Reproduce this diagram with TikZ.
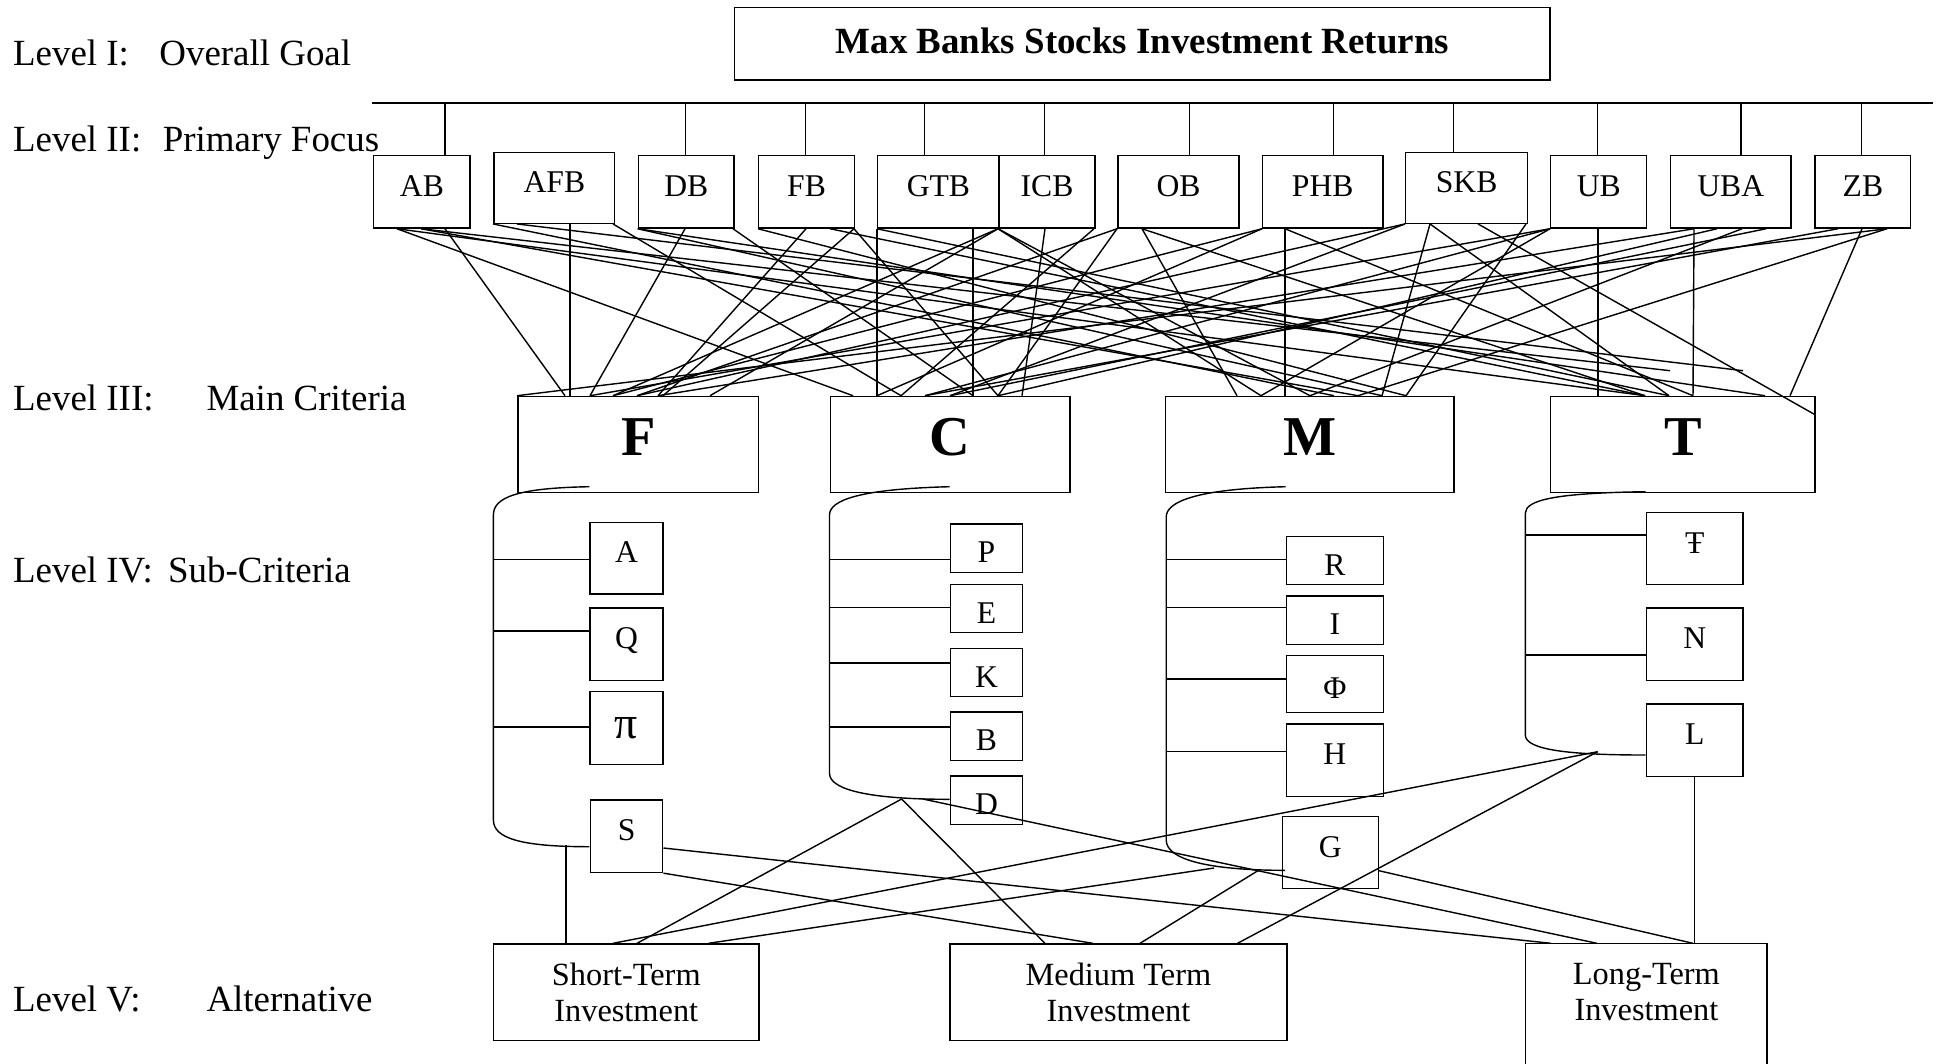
\documentclass[tikz,border=0pt]{standalone}
\usepackage{fontspec}
\setmainfont{Liberation Serif}
\begin{document}
\begin{tikzpicture}[x=0.01cm, y=-0.01cm, line width=0.4pt,
    every node/.style={inner sep=0pt},
    lvl/.style={anchor=base west, font=\fontsize{10.5}{12}\selectfont},
    goal/.style={draw, anchor=north west, text height=7pt, text depth=1.4pt,
        font=\fontsize{10.5}{12}\selectfont\bfseries},
    bank/.style={draw, anchor=north west, minimum height=0.723cm, text height=6pt, text depth=3.4pt,
        font=\fontsize{9}{10}\selectfont},
    crit/.style={draw, anchor=north west, minimum height=0.96cm, text height=10.8pt, text depth=4.4pt,
        font=\fontsize{16}{18}\selectfont\bfseries},
    tallsub/.style={draw, anchor=north west, text height=6pt, text depth=3.4pt,
        font=\fontsize{9}{10}\selectfont},
    shortsub/.style={draw, anchor=north west, text height=8.2pt, text depth=0pt,
        font=\fontsize{9}{10}\selectfont},
    alt/.style={draw, anchor=north west, minimum height=0.967cm, align=center,
        font=\fontsize{9.2}{10.3}\selectfont}]
    \useasboundingbox (0,0) rectangle (1943,1063);

    % Level names on the left
    \node[lvl] (lvlI) at (12.4,65.6) {\makebox[1.462cm][l]{Level I:}Overall Goal};
    \node[lvl] (lvlII) at (12.4,151.1) {\makebox[1.496cm][l]{Level II:}Primary Focus};
    \node[lvl] (lvlIII) at (12.4,410.1) {\makebox[1.933cm][l]{Level III:}Main Criteria};
    \node[lvl] (lvlIV) at (12.4,582.3) {\makebox[1.55cm][l]{Level IV:}Sub-Criteria};
    \node[lvl] (lvlV) at (12.4,1011.1) {\makebox[1.933cm][l]{Level V:}Alternative};

    % Level I: goal
    \node[goal, minimum width=8.15cm, minimum height=0.723cm] (goal) at (734,7)
        {Max Banks Stocks Investment Returns};

    % bar under the goal
    \coordinate (bar) at (372,103);
    \coordinate (barEnd) at (1933,103);
    \draw[line width=0.7pt] (bar) -- (barEnd);

    % Level II: banks
    \foreach \n/\x/\w in {AB/373/0.963, DB/637.7/0.956, FB/757.7/0.963, GTB/877/1.213,
        ICB/998.3/0.96, OB/1117.3/1.21, PHB/1261.7/1.206, UB/1550/0.96,
        UBA/1670/1.2, ZB/1814.3/0.957}
        \node[bank, minimum width=\w cm] (\n) at (\x,155) {\n};
    \node[bank, minimum width=1.207cm, minimum height=0.705cm] (AFB) at (493.3,152) {AFB};
    \node[bank, minimum width=1.217cm, minimum height=0.705cm] (SKB) at (1405,152) {SKB};

    % drops from the bar
    \foreach \n/\x in {AB/445, DB/685.3, FB/805.5, GTB/924.5, ICB/1044.6, OB/1189.6,
        PHB/1333.4, SKB/1453.6, UB/1597.3, UBA/1741.1, ZB/1861.3}
        \draw (bar -| \x,0) -- (\n.north -| \x,0);

    % Level III: main criteria
    \node[crit, minimum width=2.404cm] (critF) at (517.3,395.7) {F};
    \node[crit, minimum width=2.39cm] (critC) at (830,395.7) {C};
    \node[crit, minimum width=2.883cm] (critM) at (1165,395.7) {M};
    \node[crit, minimum width=2.64cm] (critT) at (1550,395.7) {T};

    % bank -> criterion lines
    \foreach \b/\x/\c/\y in {AB/445/critF/565, AB/397/critC/853, AB/421/critM/1358, AB/397/critT/1645,
        AFB/570/critF/570, AFB/613/critC/901, AFB/493/critM/1334,
        DB/685/critF/590, DB/733/critC/973, DB/637.7/critM/1382, DB/637.7/critT/1765,
        FB/806/critF/658, FB/854/critF/663, FB/854/critC/998, FB/758/critM/1406, FB/830/critT/1645,
        GTB/877/critC/877, GTB/973/critC/973, GTB/998/critF/710, GTB/998/critM/1310, GTB/877/critT/1669,
        ICB/1045/critC/1022, ICB/1094/critC/901, ICB/998/critF/613, ICB/998/critM/1261,
        OB/1117/critF/637, OB/1117/critC/998, OB/1142/critM/1237, OB/1142/critT/1645,
        PHB/1285/critM/1285, PHB/1262/critC/877, PHB/1262/critF/613, PHB/1285/critT/1693,
        SKB/1430/critM/1382, SKB/1526/critM/1406, SKB/1405/critC/950, SKB/1405/critF/637, SKB/1430/critT/1669,
        UB/1598/critT/1598, UB/1550/critM/1261, UB/1550/critC/925, UB/1550/critF/590,
        UBA/1694/critT/1693, UBA/1694/critF/658, UBA/1717/critC/998, UBA/1742/critM/1310, UBA/1766/critC/950,
        ZB/1862/critT/1790, ZB/1887/critF/517, ZB/1838/critC/925, ZB/1887/critM/1358}
        \draw (\b.south -| \x,0) -- (\c.north -| \y,0);
    % lines that stop short of T or hit its side
    \draw (AB.south -| 421,0) -- ([yshift=0.25cm]critT.north -| 1670,0);
    \draw (AFB.south -| 517,0) -- ([yshift=0.25cm]critT.north -| 1743,0);
    \draw (SKB.south -| 1478,0) -- (critT.east |- 0,415);

    % Level IV: sub-criteria
    \node[tallsub, minimum width=0.727cm, minimum height=0.716cm] (subA) at (589.4,521.7) {A};
    \node[tallsub, minimum width=0.727cm, minimum height=0.727cm] (subQ) at (589.4,607.3) {Q};
    \node[draw, anchor=north west, minimum width=0.727cm, minimum height=0.73cm] (subPi) at (589.4,691)
        {\fontsize{13}{13}\selectfont π};
    \node[tallsub, minimum width=0.72cm, minimum height=0.724cm] (subS) at (590,799.3) {S};

    \node[shortsub, minimum width=0.724cm, minimum height=0.484cm] (subP) at (949.6,523.3) {P};
    \node[shortsub, minimum width=0.724cm, minimum height=0.483cm] (subE) at (949.6,583.7) {E};
    \node[shortsub, minimum width=0.724cm, minimum height=0.483cm] (subK) at (949.6,647.7) {K};
    \node[shortsub, minimum width=0.724cm, minimum height=0.487cm] (subB) at (949.6,711.3) {B};
    \node[shortsub, minimum width=0.724cm, minimum height=0.484cm] (subD) at (949.6,775.3) {D};

    \node[shortsub, minimum width=0.971cm, minimum height=0.483cm] (subR) at (1285.6,535.7) {R};
    \node[shortsub, minimum width=0.971cm, minimum height=0.484cm] (subI) at (1285.6,595.3) {I};
    \node[shortsub, minimum width=0.971cm, minimum height=0.567cm] (subPhi) at (1285.6,655) {Φ};
    \node[tallsub, minimum width=0.971cm, minimum height=0.724cm] (subH) at (1285.6,723.3) {H};
    \node[tallsub, minimum width=0.961cm, minimum height=0.72cm] (subG) at (1281.5,815.7) {G};

    \node[tallsub, minimum width=0.966cm, minimum height=0.723cm] (subTbar) at (1645.7,511.7) {Ŧ};
    \node[tallsub, minimum width=0.966cm, minimum height=0.727cm] (subN) at (1645.7,607.3) {N};
    \node[tallsub, minimum width=0.966cm, minimum height=0.724cm] (subL) at (1645.7,703.3) {L};

    % brackets under each criterion
    \coordinate (Fl) at (493.4,0);
    \coordinate (Cl) at (829.5,0);
    \coordinate (Ml) at (1166.2,0);
    \coordinate (Tl) at (1525.3,0);
    \draw (589.4,486.7) .. controls (515,488) and (493.4,498) .. (493.4,515)
        -- (493.4,820) .. controls (493.4,838) and (520,846.7) .. (589.4,846.7);
    \draw (949.6,486.7) .. controls (860,489) and (829.5,500) .. (829.5,515)
        -- (829.5,773.3) .. controls (829.5,790) and (870,799.3) .. (949.6,799.3);
    \draw (1285.6,486.7) .. controls (1195,489) and (1166.2,502) .. (1166.2,517)
        -- (1166.2,840) .. controls (1166.2,860) and (1210,870.3) .. (1285,870.3);
    \draw (1645.7,491.7) .. controls (1555,493) and (1525.3,500) .. (1525.3,513.3)
        -- (1525.3,735) .. controls (1525.3,750) and (1570,755) .. (1645.7,755);

    % ticks from the brackets
    \foreach \b/\y in {subA/559.3, subQ/631, subPi/727}
        \draw (Fl |- 0,\y) -- (\b.west |- 0,\y);
    \foreach \b/\y in {subP/559.3, subE/607.3, subK/663, subB/727}
        \draw (Cl |- 0,\y) -- (\b.west |- 0,\y);
    \foreach \b/\y in {subR/559.3, subI/607.3, subPhi/679, subH/751.7}
        \draw (Ml |- 0,\y) -- (\b.west |- 0,\y);
    \foreach \b/\y in {subTbar/535, subN/655}
        \draw (Tl |- 0,\y) -- (\b.west |- 0,\y);

    % Level V: alternatives
    \node[alt, minimum width=2.65cm] (short) at (493,943.3) {Short-Term\\Investment};
    \node[alt, minimum width=3.368cm] (medium) at (949.2,943.3) {Medium Term\\Investment};
    \node[alt, draw=none, minimum width=2.398cm] (long) at (1525.7,943.3) {Long-Term\\Investment};
    \draw ([yshift=-1cm]long.south west) -- (long.north west) -- (long.north east)
        -- ([yshift=-1cm]long.south east);

    % sub-criteria -> alternatives
    \coordinate (fb) at (565.8,845);
    \coordinate (cb) at (901.6,799);
    \coordinate (cd) at (923,799);
    \coordinate (mb) at (1214,868);
    \coordinate (mg) at (1259,870);
    \coordinate (tb) at (1597.6,751.7);
    \draw (fb) -- (short.north -| fb);
    \draw (subS.east |- 0,848) -- (long.north -| 1551,0);
    \draw (subS.south east) -- (medium.north -| 1093,0);
    \draw (cb) -- (short.north -| 637,0);
    \draw (cb) -- (medium.north -| 1045,0);
    \draw (cd) -- (long.north -| 1597,0);
    \draw (mb) -- (short.north -| 708.5,0);
    \draw (mg) -- (medium.north -| 1140,0);
    \draw (tb) -- (short.north -| 613,0);
    \draw (tb) -- (medium.north -| 1237.5,0);
    \draw (subG.east |- 0,870.7) -- (long.north -| 1693,0);
    \draw (subL.south) -- (long.north -| subL.south);
\end{tikzpicture}
\end{document}
